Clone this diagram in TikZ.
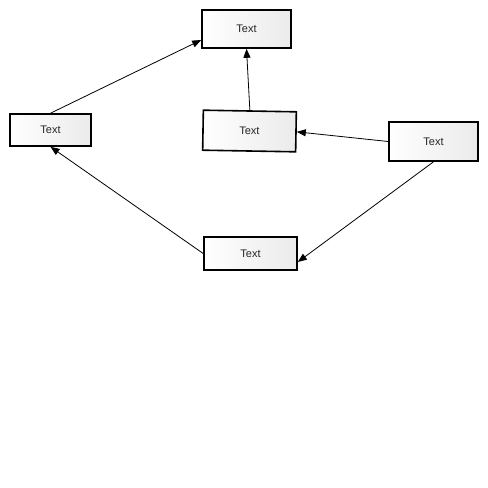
\documentclass[tikz,border=0pt]{standalone}
\usepackage{fontspec}
\setmainfont{Liberation Sans}
\usetikzlibrary{arrows.meta}
\begin{document}
\begin{tikzpicture}[x=1pt,y=-1pt,
  box/.style={draw=black,line width=1.6pt,left color=white,right color=black!8,
    inner sep=0pt,font=\fontsize{11}{13}\selectfont,text=black!85},
  link/.style={draw=black,line width=0.8pt,-{Triangle[length=9pt,width=7pt]}}]
\useasboundingbox (0,0) rectangle (488,488);
\node[box,minimum width=89pt,minimum height=38pt] (top) at (246.5,29) {Text};
\node[box,minimum width=81pt,minimum height=32pt] (left) at (50.5,130) {Text};
\node[box,minimum width=93pt,minimum height=40pt,rotate=-1] (mid) at (249.5,131) {Text};
\node[box,minimum width=89pt,minimum height=39pt] (right) at (433.5,141.5) {Text};
\node[box,minimum width=93pt,minimum height=33pt] (bot) at (250.5,253.5) {Text};
\draw[link] (left.north) -- ([yshift=-11pt]top.west);
\draw[link] (mid.north) -- (top.south);
\draw[link] (right.west) -- (mid.east);
\draw[link] (right.south) -- ([yshift=-8.5pt]bot.east);
\draw[link] (bot.west) -- (left.south);
\end{tikzpicture}
\end{document}
